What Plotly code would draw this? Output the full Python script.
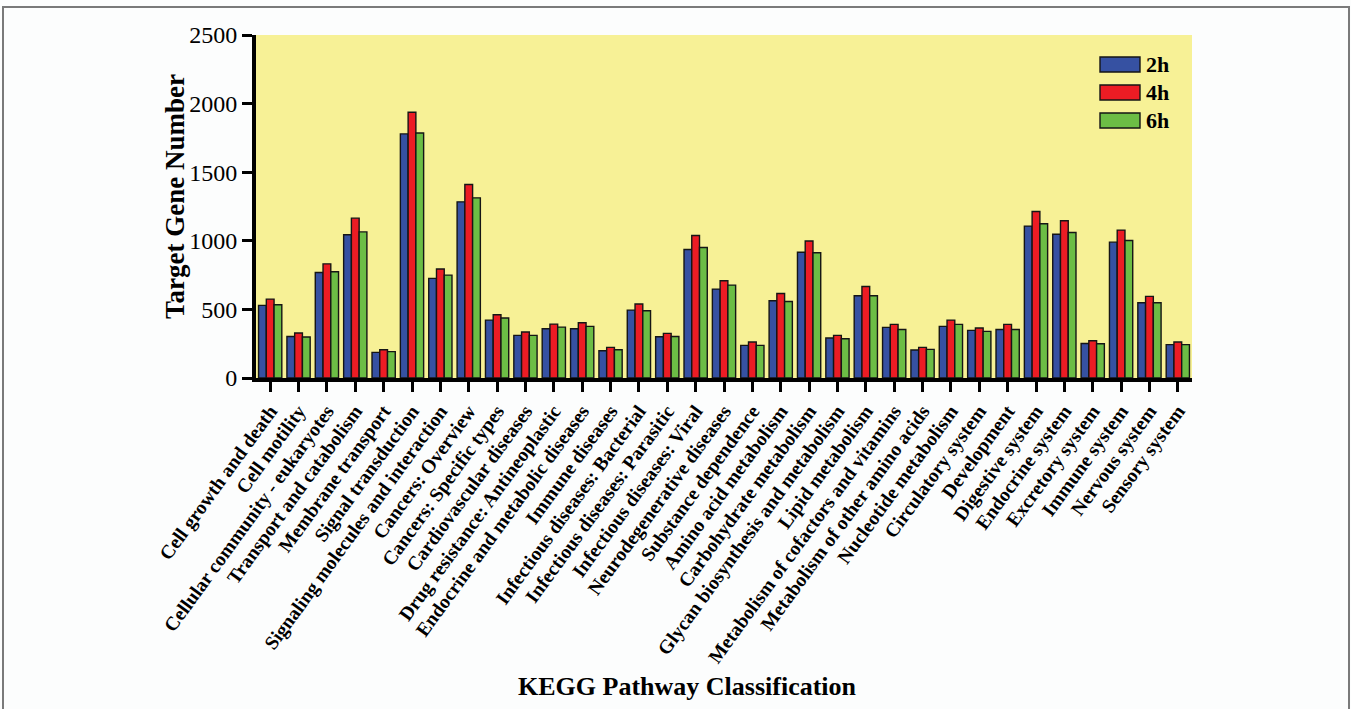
import plotly.graph_objects as go

# KEGG pathway classes
categories = [
    "Cell growth and death", "Cell motility", "Cellular community - eukaryotes",
    "Transport and catabolism", "Membrane transport", "Signal transduction",
    "Signaling molecules and interaction", "Cancers: Overview", "Cancers: Specific types",
    "Cardiovascular diseases", "Drug resistance: Antineoplastic",
    "Endocrine and metabolic diseases", "Immune diseases", "Infectious diseases: Bacterial",
    "Infectious diseases: Parasitic", "Infectious diseases: Viral",
    "Neurodegenerative diseases", "Substance dependence", "Amino acid metabolism",
    "Carbohydrate metabolism", "Glycan biosynthesis and metabolism", "Lipid metabolism",
    "Metabolism of cofactors and vitamins", "Metabolism of other amino acids",
    "Nucleotide metabolism", "Circulatory system", "Development", "Digestive system",
    "Endocrine system", "Excretory system", "Immune system", "Nervous system",
    "Sensory system",
]

# Target gene counts per time point
h2 = [529, 303, 769, 1044, 187, 1779, 726, 1284, 422, 311, 359, 359, 199, 495, 301,
      937, 648, 238, 563, 917, 291, 599, 369, 204, 376, 347, 354, 1107, 1048, 252,
      990, 549, 243]
h4 = [575, 328, 832, 1165, 206, 1937, 794, 1410, 461, 335, 393, 403, 223, 539, 325,
      1039, 709, 262, 616, 998, 311, 667, 391, 223, 422, 364, 391, 1214, 1146, 272,
      1078, 595, 262]
h6 = [534, 299, 774, 1065, 192, 1786, 750, 1313, 437, 311, 371, 376, 206, 490, 303,
      951, 677, 238, 558, 913, 286, 599, 354, 209, 391, 340, 354, 1124, 1061, 250,
      1002, 549, 243]

series_names = ["2h", "4h", "6h"]
series_values = [h2, h4, h6]
series_colors = ["#3651a2", "#ec1c24", "#6cbd45"]

y_ticks = [0, 500, 1000, 1500, 2000, 2500]

W, H = 1351, 709
L, R, T, B = 256, 159, 35, 331
pw, ph = W - L - R, H - T - B


def px(x):
    return (x - L) / pw


def py(y):
    return (H - B - y) / ph


SERIF = "Liberation Serif, Times New Roman, serif"

fig = go.Figure()
for name, vals, col in zip(series_names, series_values, series_colors):
    fig.add_trace(go.Bar(
        x=categories, y=vals, name=name,
        marker=dict(color=col, line=dict(color="#151515", width=1.4)),
        showlegend=False,
    ))

# hand-drawn legend (wide swatches) in the upper right corner
shapes = []
annotations = []
for i, (name, col) in enumerate(zip(series_names, series_colors)):
    top = 57 + 28 * i
    shapes.append(dict(type="rect", xref="paper", yref="paper",
                       x0=px(1100), x1=px(1140), y0=py(top + 15), y1=py(top),
                       fillcolor=col, line=dict(color="#151515", width=1.4)))
    annotations.append(dict(text="<b>%s</b>" % name, xref="paper", yref="paper",
                            x=px(1144), y=py(top + 7.5), xanchor="left", yanchor="middle",
                            showarrow=False, font=dict(family=SERIF, size=22, color="black")))

# thin grey frame around the whole figure
shapes.append(dict(type="rect", xref="paper", yref="paper",
                   x0=px(3), x1=px(1349), y0=py(715), y1=py(7),
                   line=dict(color="#7a7a7a", width=2), fillcolor="rgba(0,0,0,0)",
                   layer="below"))

annotations.append(dict(text="<b>Target Gene Number</b>", xref="paper", yref="paper",
                        x=px(175), y=py(197), textangle=-90, showarrow=False,
                        xanchor="center", yanchor="middle",
                        font=dict(family=SERIF, size=27, color="black")))
annotations.append(dict(text="<b>KEGG Pathway Classification</b>", xref="paper", yref="paper",
                        x=px(687), y=py(686), showarrow=False,
                        xanchor="center", yanchor="middle",
                        font=dict(family=SERIF, size=26, color="black")))

fig.update_layout(
    width=W, height=H,
    margin=dict(l=L, r=R, t=T, b=B),
    paper_bgcolor="#fcfdfd",
    plot_bgcolor="#f7f196",
    barmode="group", bargap=0.18, bargroupgap=0,
    shapes=shapes, annotations=annotations,
    showlegend=False,
)
fig.update_xaxes(
    showline=True, linecolor="black", linewidth=4,
    ticks="outside", ticklen=10, tickwidth=3, tickcolor="black",
    tickangle=-54, showgrid=False,
    tickfont=dict(family=SERIF, size=19.5, color="black", weight="bold"),
)
fig.update_yaxes(
    range=[0, 2500], tickvals=y_ticks, showline=True, linecolor="black", linewidth=4,
    ticks="outside", ticklen=10, tickwidth=3, tickcolor="black",
    showgrid=False, zeroline=False,
    tickfont=dict(family=SERIF, size=24, color="black"),
)

fig.write_html("out.html")
